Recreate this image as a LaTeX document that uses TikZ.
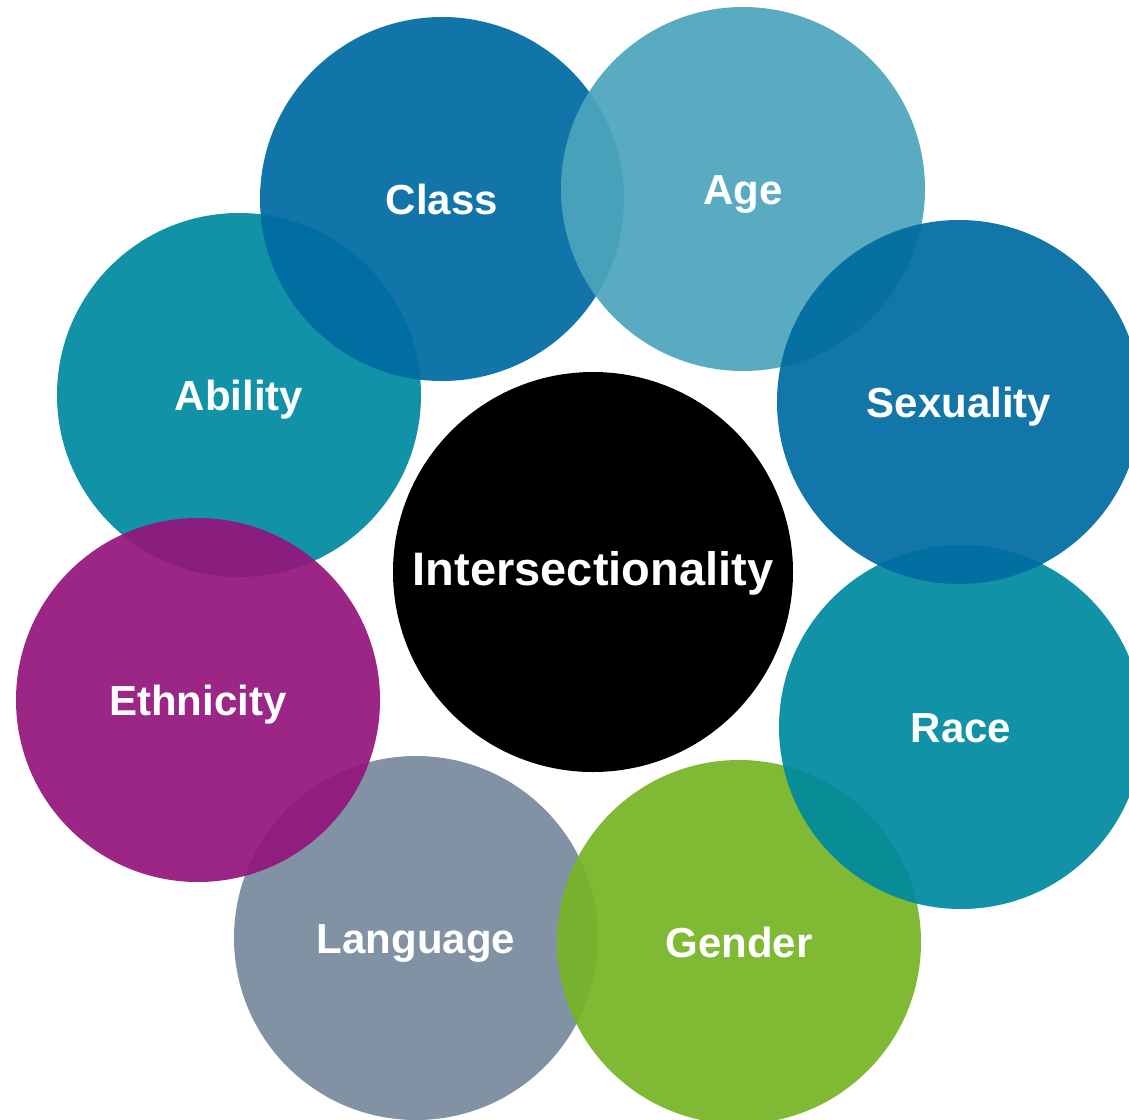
\documentclass[tikz,border=0pt]{standalone}
\usepackage{fontspec}
\setmainfont{Liberation Sans}
\definecolor{cClass}{RGB}{0,107,162}
\definecolor{cAge}{RGB}{76,165,189}
\definecolor{cSex}{RGB}{0,108,162}
\definecolor{cRace}{RGB}{0,138,159}
\definecolor{cAbil}{RGB}{0,138,159}
\definecolor{cGender}{RGB}{118,181,38}
\definecolor{cLang}{RGB}{119,138,157}
\definecolor{cEth}{RGB}{147,22,124}
\tikzset{
  bubble/.style={circle, minimum size=364pt, inner sep=0pt, fill=#1, fill opacity=0.93, text opacity=1, text=white, text height=30pt, text depth=-2pt, font=\fontsize{42}{48}\selectfont\bfseries},
  core/.style={circle, minimum size=400pt, inner sep=0pt, fill=black, text=white, text height=33.7pt, text depth=7pt, font=\fontsize{47}{54}\selectfont\bfseries}
}
\begin{document}
\begin{tikzpicture}[x=1pt,y=-1pt]
\useasboundingbox (0,0) rectangle (1129,1119);
\node[bubble=cLang] (language) at (416,938) {Language};
\node[bubble=cGender] (gender) at (739,942) {Gender};
\node[bubble=cRace] (race) at (961,727) {Race};
\node[bubble=cAbil] (ability) at (239,395) {Ability};
\node[bubble=cEth] (ethnicity) at (198,700) {Ethnicity};
\node[bubble=cClass] (class) at (442,199) {Class};
\node[bubble=cAge] (age) at (743,189) {Age};
\node[bubble=cSex] (sexuality) at (959,402) {Sexuality};
\node[core] (inter) at (593,572) {Intersectionality};
\end{tikzpicture}
\end{document}
